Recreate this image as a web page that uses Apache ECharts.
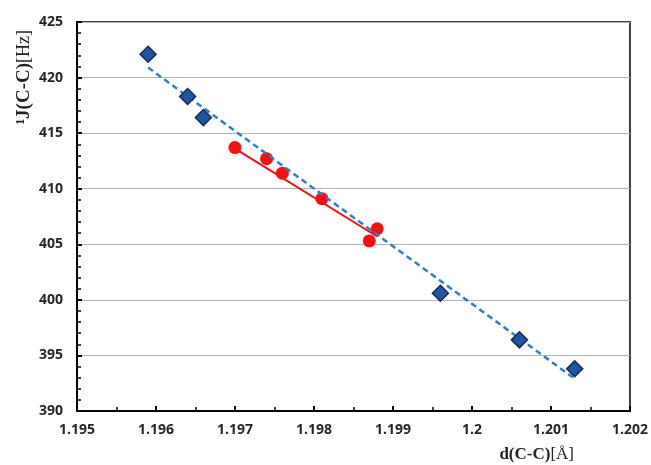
<!DOCTYPE html>
<html>
<head>
    <meta charset="utf-8">
    <title>J(C-C) vs d(C-C)</title>
    <script src="https://cdn.jsdelivr.net/npm/echarts@6/dist/echarts.min.js"></script>
    <style>
        html, body { margin: 0; padding: 0; background: #fff; }
    </style>
</head>
<body>
<div id="chart" style="width: 651px; height: 465px;"></div>
<script>
    // blue diamonds: [d(C-C), 1J(C-C)]
    var blueX = [1.1959, 1.1964, 1.1966, 1.1996, 1.2006, 1.2013];
    var blueY = [422.1, 418.3, 416.4, 400.6, 396.4, 393.8];
    // red circles
    var redX = [1.1970, 1.1974, 1.1976, 1.1981, 1.1987, 1.1988];
    var redY = [413.7, 412.7, 411.4, 409.1, 405.3, 406.4];
    // trend line ends
    var blueTrendX = [1.1959, 1.2013];
    var blueTrendY = [420.9, 392.9];
    var redTrendX = [1.1970, 1.1988];
    var redTrendY = [413.6, 405.7];

    function pairs(xs, ys) {
        return xs.map(function (x, i) { return [x, ys[i]]; });
    }

    var chart = echarts.init(document.getElementById('chart'));

    var tickFont = {
        fontFamily: 'Open Sans',
        fontWeight: 'bold',
        fontSize: 14,
        color: '#262626'
    };

    chart.setOption({
        animation: false,
        grid: {
            left: 77, right: 21, top: 22, bottom: 54,
            show: true, borderColor: '#000', borderWidth: 1.5
        },
        xAxis: {
            type: 'value',
            min: 1.195, max: 1.202, interval: 0.001,
            axisLine: { lineStyle: { color: '#000', width: 2 } },
            axisTick: { inside: true, length: 5, lineStyle: { color: '#000', width: 2 } },
            minorTick: { show: true, splitNumber: 2, length: 4, lineStyle: { color: '#000', width: 1.5 } },
            splitLine: { show: false },
            axisLabel: Object.assign({ margin: 12 }, tickFont),
            name: '{b|d(C-C)}{n|[Å]}',
            nameLocation: 'end',
            nameGap: 0,
            nameTextStyle: {
                align: 'right', verticalAlign: 'top',
                padding: [35, 56, 0, 0],
                rich: {
                    b: { fontFamily: 'Liberation Serif', fontWeight: 'bold', fontSize: 17, color: '#222' },
                    n: { fontFamily: 'Liberation Serif', fontSize: 17, color: '#222' }
                }
            }
        },
        yAxis: {
            type: 'value',
            min: 390, max: 425, interval: 5,
            axisLine: { lineStyle: { color: '#000', width: 2 } },
            axisTick: { inside: true, length: 5, lineStyle: { color: '#000', width: 2 } },
            minorTick: { show: true, splitNumber: 5, length: 4, lineStyle: { color: '#000', width: 1.5 } },
            splitLine: { show: true, lineStyle: { color: '#b4b4b4', width: 1.2 } },
            axisLabel: Object.assign({ margin: 14 }, tickFont),
            name: '{b|¹J(C-C)}{n|[Hz]}',
            nameLocation: 'end',
            nameRotate: 90,
            nameGap: 0,
            nameTextStyle: {
                align: 'right', verticalAlign: 'bottom',
                padding: [0, 8, 43, 0],
                rich: {
                    b: { fontFamily: 'Liberation Serif', fontWeight: 'bold', fontSize: 19, color: '#222' },
                    n: { fontFamily: 'Liberation Serif', fontSize: 18, color: '#222' }
                }
            }
        },
        series: [
            {
                type: 'scatter',
                data: pairs(redX, redY),
                symbol: 'circle',
                symbolSize: 13,
                itemStyle: { color: '#f81010', opacity: 1 },
                z: 2
            },
            {
                type: 'line',
                data: pairs(redTrendX, redTrendY),
                showSymbol: false,
                lineStyle: { color: '#ee1111', width: 2 },
                z: 3
            },
            {
                type: 'line',
                data: pairs(blueTrendX, blueTrendY),
                showSymbol: false,
                lineStyle: { color: '#2c7fc6', width: 2.5, type: [6, 4] },
                z: 4
            },
            {
                type: 'scatter',
                data: pairs(blueX, blueY),
                symbol: 'diamond',
                symbolSize: 16,
                itemStyle: { color: '#2255a0', borderColor: '#102c5c', borderWidth: 1.5, opacity: 1 },
                z: 5
            }
        ]
    });
</script>
</body>
</html>
